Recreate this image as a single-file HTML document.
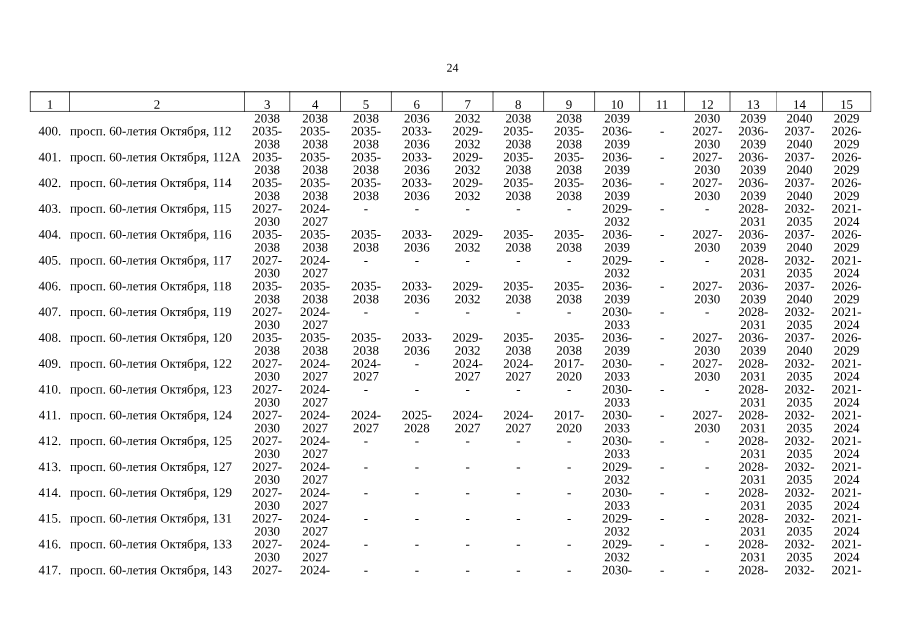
<!DOCTYPE html>
<html lang="ru">
<head>
<meta charset="utf-8">
<title>24</title>
<style>
html,body{margin:0;padding:0;background:#fff}
body{width:905px;height:640px;position:relative;overflow:hidden}
#pg{position:absolute;left:0;top:0;width:905px;height:640px;background:#fff;will-change:transform;font-family:"Liberation Serif","Times New Roman",serif;text-rendering:geometricPrecision;color:#000}
.r{position:absolute;left:0;width:905px;height:14px;font-size:12.9px;line-height:14px;white-space:nowrap}
.r i,.r b{position:absolute;top:0;font-style:normal;font-weight:normal;height:14px}
.r i{text-align:center}
.r u{position:absolute;left:0;top:0;width:905px;height:14px;text-decoration:none}
u.a{transform-origin:137px 0}
u.b{transform-origin:420px 0}
u.c{transform-origin:733px 0}
u.p{transform-origin:452.5px 0}
.q0 u{transform:matrix(1,0.0005,0,1,0,0)}
.q1 u{transform:matrix(1,0.0005,0,1,0,.25)}
.q2 u{transform:matrix(1,0.0005,0,1,0,.5)}
.q3 u{transform:matrix(1,0.0005,0,1,0,.75)}
.r b{letter-spacing:0.012px}
.g{position:absolute;left:0;top:0}
</style>
</head>
<body>
<div id="pg">
<svg class="g" width="905" height="640" viewBox="0 0 905 640"><g stroke="#000" fill="none"><path stroke-width="0.95" d="M29.96 91.78H871.02"/><path stroke-width="0.68" d="M29.96 111.45H871.02"/><path stroke-width="0.68" d="M30.30 91.31V111.79"/><path stroke-width="0.68" d="M69.50 91.31V111.79"/><path stroke-width="0.68" d="M244.50 91.31V111.79"/><path stroke-width="0.68" d="M289.75 91.31V111.79"/><path stroke-width="0.68" d="M340.50 91.31V111.79"/><path stroke-width="0.68" d="M391.40 91.31V111.79"/><path stroke-width="0.68" d="M442.30 91.31V111.79"/><path stroke-width="0.68" d="M493.00 91.31V111.79"/><path stroke-width="0.68" d="M543.60 91.31V111.79"/><path stroke-width="0.68" d="M594.60 91.31V111.79"/><path stroke-width="0.68" d="M639.60 91.31V111.79"/><path stroke-width="0.68" d="M684.50 91.31V111.79"/><path stroke-width="0.68" d="M730.00 91.31V111.79"/><path stroke-width="0.36" d="M776.50 91.31V111.79"/><path stroke-width="0.68" d="M822.50 91.31V111.79"/><path stroke-width="0.55" d="M870.75 91.31V111.79"/></g></svg>
<div class="r q3" style="font-size:12.0px;top:60px"><u class="p"><i style="left:0;width:905px">24</i></u></div>
<div class="r q3" style="top:97px"><u class="a"><i style="left:30.30px;width:39.20px">1</i><i style="left:69.50px;width:175.00px">2</i></u><u class="b"><i style="left:244.50px;width:45.25px">3</i><i style="left:289.75px;width:50.75px">4</i><i style="left:340.50px;width:50.90px">5</i><i style="left:391.40px;width:50.90px">6</i><i style="left:442.30px;width:50.70px">7</i><i style="left:493.00px;width:50.60px">8</i><i style="left:543.60px;width:51.00px">9</i></u><u class="c"><i style="left:594.60px;width:45.00px">10</i><i style="left:639.60px;width:44.90px">11</i><i style="left:684.50px;width:45.50px">12</i><i style="left:730.00px;width:46.50px">13</i><i style="left:776.50px;width:46.00px">14</i><i style="left:822.50px;width:48.25px">15</i></u></div>
<div class="r q2" style="top:111px"><u class="b"><i style="left:244.50px;width:45.25px">2038</i><i style="left:289.75px;width:50.75px">2038</i><i style="left:340.50px;width:50.90px">2038</i><i style="left:391.40px;width:50.90px">2036</i><i style="left:442.30px;width:50.70px">2032</i><i style="left:493.00px;width:50.60px">2038</i><i style="left:543.60px;width:51.00px">2038</i></u><u class="c"><i style="left:594.60px;width:45.00px">2039</i><i style="left:684.50px;width:45.50px">2030</i><i style="left:730.00px;width:46.50px">2039</i><i style="left:776.50px;width:46.00px">2040</i><i style="left:822.50px;width:48.25px">2029</i></u></div>
<div class="r q1" style="top:124px"><u class="a"><i style="left:30.30px;width:39.20px">400.</i><b style="left:69.90px">просп. 60-летия Октября, 112</b></u><u class="b"><i style="left:244.50px;width:45.25px">2035-</i><i style="left:289.75px;width:50.75px">2035-</i><i style="left:340.50px;width:50.90px">2035-</i><i style="left:391.40px;width:50.90px">2033-</i><i style="left:442.30px;width:50.70px">2029-</i><i style="left:493.00px;width:50.60px">2035-</i><i style="left:543.60px;width:51.00px">2035-</i></u><u class="c"><i style="left:594.60px;width:45.00px">2036-</i><i style="left:639.60px;width:44.90px">-</i><i style="left:684.50px;width:45.50px">2027-</i><i style="left:730.00px;width:46.50px">2036-</i><i style="left:776.50px;width:46.00px">2037-</i><i style="left:822.50px;width:48.25px">2026-</i></u></div>
<div class="r q1" style="top:137px"><u class="b"><i style="left:244.50px;width:45.25px">2038</i><i style="left:289.75px;width:50.75px">2038</i><i style="left:340.50px;width:50.90px">2038</i><i style="left:391.40px;width:50.90px">2036</i><i style="left:442.30px;width:50.70px">2032</i><i style="left:493.00px;width:50.60px">2038</i><i style="left:543.60px;width:51.00px">2038</i></u><u class="c"><i style="left:594.60px;width:45.00px">2039</i><i style="left:684.50px;width:45.50px">2030</i><i style="left:730.00px;width:46.50px">2039</i><i style="left:776.50px;width:46.00px">2040</i><i style="left:822.50px;width:48.25px">2029</i></u></div>
<div class="r q1" style="top:150px"><u class="a"><i style="left:30.30px;width:39.20px">401.</i><b style="left:69.90px">просп. 60-летия Октября, 112А</b></u><u class="b"><i style="left:244.50px;width:45.25px">2035-</i><i style="left:289.75px;width:50.75px">2035-</i><i style="left:340.50px;width:50.90px">2035-</i><i style="left:391.40px;width:50.90px">2033-</i><i style="left:442.30px;width:50.70px">2029-</i><i style="left:493.00px;width:50.60px">2035-</i><i style="left:543.60px;width:51.00px">2035-</i></u><u class="c"><i style="left:594.60px;width:45.00px">2036-</i><i style="left:639.60px;width:44.90px">-</i><i style="left:684.50px;width:45.50px">2027-</i><i style="left:730.00px;width:46.50px">2036-</i><i style="left:776.50px;width:46.00px">2037-</i><i style="left:822.50px;width:48.25px">2026-</i></u></div>
<div class="r q0" style="top:163px"><u class="b"><i style="left:244.50px;width:45.25px">2038</i><i style="left:289.75px;width:50.75px">2038</i><i style="left:340.50px;width:50.90px">2038</i><i style="left:391.40px;width:50.90px">2036</i><i style="left:442.30px;width:50.70px">2032</i><i style="left:493.00px;width:50.60px">2038</i><i style="left:543.60px;width:51.00px">2038</i></u><u class="c"><i style="left:594.60px;width:45.00px">2039</i><i style="left:684.50px;width:45.50px">2030</i><i style="left:730.00px;width:46.50px">2039</i><i style="left:776.50px;width:46.00px">2040</i><i style="left:822.50px;width:48.25px">2029</i></u></div>
<div class="r q0" style="top:176px"><u class="a"><i style="left:30.30px;width:39.20px">402.</i><b style="left:69.90px">просп. 60-летия Октября, 114</b></u><u class="b"><i style="left:244.50px;width:45.25px">2035-</i><i style="left:289.75px;width:50.75px">2035-</i><i style="left:340.50px;width:50.90px">2035-</i><i style="left:391.40px;width:50.90px">2033-</i><i style="left:442.30px;width:50.70px">2029-</i><i style="left:493.00px;width:50.60px">2035-</i><i style="left:543.60px;width:51.00px">2035-</i></u><u class="c"><i style="left:594.60px;width:45.00px">2036-</i><i style="left:639.60px;width:44.90px">-</i><i style="left:684.50px;width:45.50px">2027-</i><i style="left:730.00px;width:46.50px">2036-</i><i style="left:776.50px;width:46.00px">2037-</i><i style="left:822.50px;width:48.25px">2026-</i></u></div>
<div class="r q0" style="top:189px"><u class="b"><i style="left:244.50px;width:45.25px">2038</i><i style="left:289.75px;width:50.75px">2038</i><i style="left:340.50px;width:50.90px">2038</i><i style="left:391.40px;width:50.90px">2036</i><i style="left:442.30px;width:50.70px">2032</i><i style="left:493.00px;width:50.60px">2038</i><i style="left:543.60px;width:51.00px">2038</i></u><u class="c"><i style="left:594.60px;width:45.00px">2039</i><i style="left:684.50px;width:45.50px">2030</i><i style="left:730.00px;width:46.50px">2039</i><i style="left:776.50px;width:46.00px">2040</i><i style="left:822.50px;width:48.25px">2029</i></u></div>
<div class="r q3" style="top:201px"><u class="a"><i style="left:30.30px;width:39.20px">403.</i><b style="left:69.90px">просп. 60-летия Октября, 115</b></u><u class="b"><i style="left:244.50px;width:45.25px">2027-</i><i style="left:289.75px;width:50.75px">2024-</i><i style="left:340.50px;width:50.90px">-</i><i style="left:391.40px;width:50.90px">-</i><i style="left:442.30px;width:50.70px">-</i><i style="left:493.00px;width:50.60px">-</i><i style="left:543.60px;width:51.00px">-</i></u><u class="c"><i style="left:594.60px;width:45.00px">2029-</i><i style="left:639.60px;width:44.90px">-</i><i style="left:684.50px;width:45.50px">-</i><i style="left:730.00px;width:46.50px">2028-</i><i style="left:776.50px;width:46.00px">2032-</i><i style="left:822.50px;width:48.25px">2021-</i></u></div>
<div class="r q3" style="top:214px"><u class="b"><i style="left:244.50px;width:45.25px">2030</i><i style="left:289.75px;width:50.75px">2027</i></u><u class="c"><i style="left:594.60px;width:45.00px">2032</i><i style="left:730.00px;width:46.50px">2031</i><i style="left:776.50px;width:46.00px">2035</i><i style="left:822.50px;width:48.25px">2024</i></u></div>
<div class="r q2" style="top:227px"><u class="a"><i style="left:30.30px;width:39.20px">404.</i><b style="left:69.90px">просп. 60-летия Октября, 116</b></u><u class="b"><i style="left:244.50px;width:45.25px">2035-</i><i style="left:289.75px;width:50.75px">2035-</i><i style="left:340.50px;width:50.90px">2035-</i><i style="left:391.40px;width:50.90px">2033-</i><i style="left:442.30px;width:50.70px">2029-</i><i style="left:493.00px;width:50.60px">2035-</i><i style="left:543.60px;width:51.00px">2035-</i></u><u class="c"><i style="left:594.60px;width:45.00px">2036-</i><i style="left:639.60px;width:44.90px">-</i><i style="left:684.50px;width:45.50px">2027-</i><i style="left:730.00px;width:46.50px">2036-</i><i style="left:776.50px;width:46.00px">2037-</i><i style="left:822.50px;width:48.25px">2026-</i></u></div>
<div class="r q2" style="top:240px"><u class="b"><i style="left:244.50px;width:45.25px">2038</i><i style="left:289.75px;width:50.75px">2038</i><i style="left:340.50px;width:50.90px">2038</i><i style="left:391.40px;width:50.90px">2036</i><i style="left:442.30px;width:50.70px">2032</i><i style="left:493.00px;width:50.60px">2038</i><i style="left:543.60px;width:51.00px">2038</i></u><u class="c"><i style="left:594.60px;width:45.00px">2039</i><i style="left:684.50px;width:45.50px">2030</i><i style="left:730.00px;width:46.50px">2039</i><i style="left:776.50px;width:46.00px">2040</i><i style="left:822.50px;width:48.25px">2029</i></u></div>
<div class="r q2" style="top:253px"><u class="a"><i style="left:30.30px;width:39.20px">405.</i><b style="left:69.90px">просп. 60-летия Октября, 117</b></u><u class="b"><i style="left:244.50px;width:45.25px">2027-</i><i style="left:289.75px;width:50.75px">2024-</i><i style="left:340.50px;width:50.90px">-</i><i style="left:391.40px;width:50.90px">-</i><i style="left:442.30px;width:50.70px">-</i><i style="left:493.00px;width:50.60px">-</i><i style="left:543.60px;width:51.00px">-</i></u><u class="c"><i style="left:594.60px;width:45.00px">2029-</i><i style="left:639.60px;width:44.90px">-</i><i style="left:684.50px;width:45.50px">-</i><i style="left:730.00px;width:46.50px">2028-</i><i style="left:776.50px;width:46.00px">2032-</i><i style="left:822.50px;width:48.25px">2021-</i></u></div>
<div class="r q1" style="top:266px"><u class="b"><i style="left:244.50px;width:45.25px">2030</i><i style="left:289.75px;width:50.75px">2027</i></u><u class="c"><i style="left:594.60px;width:45.00px">2032</i><i style="left:730.00px;width:46.50px">2031</i><i style="left:776.50px;width:46.00px">2035</i><i style="left:822.50px;width:48.25px">2024</i></u></div>
<div class="r q1" style="top:279px"><u class="a"><i style="left:30.30px;width:39.20px">406.</i><b style="left:69.90px">просп. 60-летия Октября, 118</b></u><u class="b"><i style="left:244.50px;width:45.25px">2035-</i><i style="left:289.75px;width:50.75px">2035-</i><i style="left:340.50px;width:50.90px">2035-</i><i style="left:391.40px;width:50.90px">2033-</i><i style="left:442.30px;width:50.70px">2029-</i><i style="left:493.00px;width:50.60px">2035-</i><i style="left:543.60px;width:51.00px">2035-</i></u><u class="c"><i style="left:594.60px;width:45.00px">2036-</i><i style="left:639.60px;width:44.90px">-</i><i style="left:684.50px;width:45.50px">2027-</i><i style="left:730.00px;width:46.50px">2036-</i><i style="left:776.50px;width:46.00px">2037-</i><i style="left:822.50px;width:48.25px">2026-</i></u></div>
<div class="r q1" style="top:292px"><u class="b"><i style="left:244.50px;width:45.25px">2038</i><i style="left:289.75px;width:50.75px">2038</i><i style="left:340.50px;width:50.90px">2038</i><i style="left:391.40px;width:50.90px">2036</i><i style="left:442.30px;width:50.70px">2032</i><i style="left:493.00px;width:50.60px">2038</i><i style="left:543.60px;width:51.00px">2038</i></u><u class="c"><i style="left:594.60px;width:45.00px">2039</i><i style="left:684.50px;width:45.50px">2030</i><i style="left:730.00px;width:46.50px">2039</i><i style="left:776.50px;width:46.00px">2040</i><i style="left:822.50px;width:48.25px">2029</i></u></div>
<div class="r q0" style="top:305px"><u class="a"><i style="left:30.30px;width:39.20px">407.</i><b style="left:69.90px">просп. 60-летия Октября, 119</b></u><u class="b"><i style="left:244.50px;width:45.25px">2027-</i><i style="left:289.75px;width:50.75px">2024-</i><i style="left:340.50px;width:50.90px">-</i><i style="left:391.40px;width:50.90px">-</i><i style="left:442.30px;width:50.70px">-</i><i style="left:493.00px;width:50.60px">-</i><i style="left:543.60px;width:51.00px">-</i></u><u class="c"><i style="left:594.60px;width:45.00px">2030-</i><i style="left:639.60px;width:44.90px">-</i><i style="left:684.50px;width:45.50px">-</i><i style="left:730.00px;width:46.50px">2028-</i><i style="left:776.50px;width:46.00px">2032-</i><i style="left:822.50px;width:48.25px">2021-</i></u></div>
<div class="r q0" style="top:318px"><u class="b"><i style="left:244.50px;width:45.25px">2030</i><i style="left:289.75px;width:50.75px">2027</i></u><u class="c"><i style="left:594.60px;width:45.00px">2033</i><i style="left:730.00px;width:46.50px">2031</i><i style="left:776.50px;width:46.00px">2035</i><i style="left:822.50px;width:48.25px">2024</i></u></div>
<div class="r q3" style="top:330px"><u class="a"><i style="left:30.30px;width:39.20px">408.</i><b style="left:69.90px">просп. 60-летия Октября, 120</b></u><u class="b"><i style="left:244.50px;width:45.25px">2035-</i><i style="left:289.75px;width:50.75px">2035-</i><i style="left:340.50px;width:50.90px">2035-</i><i style="left:391.40px;width:50.90px">2033-</i><i style="left:442.30px;width:50.70px">2029-</i><i style="left:493.00px;width:50.60px">2035-</i><i style="left:543.60px;width:51.00px">2035-</i></u><u class="c"><i style="left:594.60px;width:45.00px">2036-</i><i style="left:639.60px;width:44.90px">-</i><i style="left:684.50px;width:45.50px">2027-</i><i style="left:730.00px;width:46.50px">2036-</i><i style="left:776.50px;width:46.00px">2037-</i><i style="left:822.50px;width:48.25px">2026-</i></u></div>
<div class="r q3" style="top:343px"><u class="b"><i style="left:244.50px;width:45.25px">2038</i><i style="left:289.75px;width:50.75px">2038</i><i style="left:340.50px;width:50.90px">2038</i><i style="left:391.40px;width:50.90px">2036</i><i style="left:442.30px;width:50.70px">2032</i><i style="left:493.00px;width:50.60px">2038</i><i style="left:543.60px;width:51.00px">2038</i></u><u class="c"><i style="left:594.60px;width:45.00px">2039</i><i style="left:684.50px;width:45.50px">2030</i><i style="left:730.00px;width:46.50px">2039</i><i style="left:776.50px;width:46.00px">2040</i><i style="left:822.50px;width:48.25px">2029</i></u></div>
<div class="r q3" style="top:356px"><u class="a"><i style="left:30.30px;width:39.20px">409.</i><b style="left:69.90px">просп. 60-летия Октября, 122</b></u><u class="b"><i style="left:244.50px;width:45.25px">2027-</i><i style="left:289.75px;width:50.75px">2024-</i><i style="left:340.50px;width:50.90px">2024-</i><i style="left:391.40px;width:50.90px">-</i><i style="left:442.30px;width:50.70px">2024-</i><i style="left:493.00px;width:50.60px">2024-</i><i style="left:543.60px;width:51.00px">2017-</i></u><u class="c"><i style="left:594.60px;width:45.00px">2030-</i><i style="left:639.60px;width:44.90px">-</i><i style="left:684.50px;width:45.50px">2027-</i><i style="left:730.00px;width:46.50px">2028-</i><i style="left:776.50px;width:46.00px">2032-</i><i style="left:822.50px;width:48.25px">2021-</i></u></div>
<div class="r q2" style="top:369px"><u class="b"><i style="left:244.50px;width:45.25px">2030</i><i style="left:289.75px;width:50.75px">2027</i><i style="left:340.50px;width:50.90px">2027</i><i style="left:442.30px;width:50.70px">2027</i><i style="left:493.00px;width:50.60px">2027</i><i style="left:543.60px;width:51.00px">2020</i></u><u class="c"><i style="left:594.60px;width:45.00px">2033</i><i style="left:684.50px;width:45.50px">2030</i><i style="left:730.00px;width:46.50px">2031</i><i style="left:776.50px;width:46.00px">2035</i><i style="left:822.50px;width:48.25px">2024</i></u></div>
<div class="r q2" style="top:382px"><u class="a"><i style="left:30.30px;width:39.20px">410.</i><b style="left:69.90px">просп. 60-летия Октября, 123</b></u><u class="b"><i style="left:244.50px;width:45.25px">2027-</i><i style="left:289.75px;width:50.75px">2024-</i><i style="left:340.50px;width:50.90px">-</i><i style="left:391.40px;width:50.90px">-</i><i style="left:442.30px;width:50.70px">-</i><i style="left:493.00px;width:50.60px">-</i><i style="left:543.60px;width:51.00px">-</i></u><u class="c"><i style="left:594.60px;width:45.00px">2030-</i><i style="left:639.60px;width:44.90px">-</i><i style="left:684.50px;width:45.50px">-</i><i style="left:730.00px;width:46.50px">2028-</i><i style="left:776.50px;width:46.00px">2032-</i><i style="left:822.50px;width:48.25px">2021-</i></u></div>
<div class="r q2" style="top:395px"><u class="b"><i style="left:244.50px;width:45.25px">2030</i><i style="left:289.75px;width:50.75px">2027</i></u><u class="c"><i style="left:594.60px;width:45.00px">2033</i><i style="left:730.00px;width:46.50px">2031</i><i style="left:776.50px;width:46.00px">2035</i><i style="left:822.50px;width:48.25px">2024</i></u></div>
<div class="r q1" style="top:408px"><u class="a"><i style="left:30.30px;width:39.20px">411.</i><b style="left:69.90px">просп. 60-летия Октября, 124</b></u><u class="b"><i style="left:244.50px;width:45.25px">2027-</i><i style="left:289.75px;width:50.75px">2024-</i><i style="left:340.50px;width:50.90px">2024-</i><i style="left:391.40px;width:50.90px">2025-</i><i style="left:442.30px;width:50.70px">2024-</i><i style="left:493.00px;width:50.60px">2024-</i><i style="left:543.60px;width:51.00px">2017-</i></u><u class="c"><i style="left:594.60px;width:45.00px">2030-</i><i style="left:639.60px;width:44.90px">-</i><i style="left:684.50px;width:45.50px">2027-</i><i style="left:730.00px;width:46.50px">2028-</i><i style="left:776.50px;width:46.00px">2032-</i><i style="left:822.50px;width:48.25px">2021-</i></u></div>
<div class="r q1" style="top:421px"><u class="b"><i style="left:244.50px;width:45.25px">2030</i><i style="left:289.75px;width:50.75px">2027</i><i style="left:340.50px;width:50.90px">2027</i><i style="left:391.40px;width:50.90px">2028</i><i style="left:442.30px;width:50.70px">2027</i><i style="left:493.00px;width:50.60px">2027</i><i style="left:543.60px;width:51.00px">2020</i></u><u class="c"><i style="left:594.60px;width:45.00px">2033</i><i style="left:684.50px;width:45.50px">2030</i><i style="left:730.00px;width:46.50px">2031</i><i style="left:776.50px;width:46.00px">2035</i><i style="left:822.50px;width:48.25px">2024</i></u></div>
<div class="r q0" style="top:434px"><u class="a"><i style="left:30.30px;width:39.20px">412.</i><b style="left:69.90px">просп. 60-летия Октября, 125</b></u><u class="b"><i style="left:244.50px;width:45.25px">2027-</i><i style="left:289.75px;width:50.75px">2024-</i><i style="left:340.50px;width:50.90px">-</i><i style="left:391.40px;width:50.90px">-</i><i style="left:442.30px;width:50.70px">-</i><i style="left:493.00px;width:50.60px">-</i><i style="left:543.60px;width:51.00px">-</i></u><u class="c"><i style="left:594.60px;width:45.00px">2030-</i><i style="left:639.60px;width:44.90px">-</i><i style="left:684.50px;width:45.50px">-</i><i style="left:730.00px;width:46.50px">2028-</i><i style="left:776.50px;width:46.00px">2032-</i><i style="left:822.50px;width:48.25px">2021-</i></u></div>
<div class="r q0" style="top:447px"><u class="b"><i style="left:244.50px;width:45.25px">2030</i><i style="left:289.75px;width:50.75px">2027</i></u><u class="c"><i style="left:594.60px;width:45.00px">2033</i><i style="left:730.00px;width:46.50px">2031</i><i style="left:776.50px;width:46.00px">2035</i><i style="left:822.50px;width:48.25px">2024</i></u></div>
<div class="r q0" style="top:460px"><u class="a"><i style="left:30.30px;width:39.20px">413.</i><b style="left:69.90px">просп. 60-летия Октября, 127</b></u><u class="b"><i style="left:244.50px;width:45.25px">2027-</i><i style="left:289.75px;width:50.75px">2024-</i><i style="left:340.50px;width:50.90px">-</i><i style="left:391.40px;width:50.90px">-</i><i style="left:442.30px;width:50.70px">-</i><i style="left:493.00px;width:50.60px">-</i><i style="left:543.60px;width:51.00px">-</i></u><u class="c"><i style="left:594.60px;width:45.00px">2029-</i><i style="left:639.60px;width:44.90px">-</i><i style="left:684.50px;width:45.50px">-</i><i style="left:730.00px;width:46.50px">2028-</i><i style="left:776.50px;width:46.00px">2032-</i><i style="left:822.50px;width:48.25px">2021-</i></u></div>
<div class="r q3" style="top:472px"><u class="b"><i style="left:244.50px;width:45.25px">2030</i><i style="left:289.75px;width:50.75px">2027</i></u><u class="c"><i style="left:594.60px;width:45.00px">2032</i><i style="left:730.00px;width:46.50px">2031</i><i style="left:776.50px;width:46.00px">2035</i><i style="left:822.50px;width:48.25px">2024</i></u></div>
<div class="r q3" style="top:485px"><u class="a"><i style="left:30.30px;width:39.20px">414.</i><b style="left:69.90px">просп. 60-летия Октября, 129</b></u><u class="b"><i style="left:244.50px;width:45.25px">2027-</i><i style="left:289.75px;width:50.75px">2024-</i><i style="left:340.50px;width:50.90px">-</i><i style="left:391.40px;width:50.90px">-</i><i style="left:442.30px;width:50.70px">-</i><i style="left:493.00px;width:50.60px">-</i><i style="left:543.60px;width:51.00px">-</i></u><u class="c"><i style="left:594.60px;width:45.00px">2030-</i><i style="left:639.60px;width:44.90px">-</i><i style="left:684.50px;width:45.50px">-</i><i style="left:730.00px;width:46.50px">2028-</i><i style="left:776.50px;width:46.00px">2032-</i><i style="left:822.50px;width:48.25px">2021-</i></u></div>
<div class="r q3" style="top:498px"><u class="b"><i style="left:244.50px;width:45.25px">2030</i><i style="left:289.75px;width:50.75px">2027</i></u><u class="c"><i style="left:594.60px;width:45.00px">2033</i><i style="left:730.00px;width:46.50px">2031</i><i style="left:776.50px;width:46.00px">2035</i><i style="left:822.50px;width:48.25px">2024</i></u></div>
<div class="r q2" style="top:511px"><u class="a"><i style="left:30.30px;width:39.20px">415.</i><b style="left:69.90px">просп. 60-летия Октября, 131</b></u><u class="b"><i style="left:244.50px;width:45.25px">2027-</i><i style="left:289.75px;width:50.75px">2024-</i><i style="left:340.50px;width:50.90px">-</i><i style="left:391.40px;width:50.90px">-</i><i style="left:442.30px;width:50.70px">-</i><i style="left:493.00px;width:50.60px">-</i><i style="left:543.60px;width:51.00px">-</i></u><u class="c"><i style="left:594.60px;width:45.00px">2029-</i><i style="left:639.60px;width:44.90px">-</i><i style="left:684.50px;width:45.50px">-</i><i style="left:730.00px;width:46.50px">2028-</i><i style="left:776.50px;width:46.00px">2032-</i><i style="left:822.50px;width:48.25px">2021-</i></u></div>
<div class="r q2" style="top:524px"><u class="b"><i style="left:244.50px;width:45.25px">2030</i><i style="left:289.75px;width:50.75px">2027</i></u><u class="c"><i style="left:594.60px;width:45.00px">2032</i><i style="left:730.00px;width:46.50px">2031</i><i style="left:776.50px;width:46.00px">2035</i><i style="left:822.50px;width:48.25px">2024</i></u></div>
<div class="r q1" style="top:537px"><u class="a"><i style="left:30.30px;width:39.20px">416.</i><b style="left:69.90px">просп. 60-летия Октября, 133</b></u><u class="b"><i style="left:244.50px;width:45.25px">2027-</i><i style="left:289.75px;width:50.75px">2024-</i><i style="left:340.50px;width:50.90px">-</i><i style="left:391.40px;width:50.90px">-</i><i style="left:442.30px;width:50.70px">-</i><i style="left:493.00px;width:50.60px">-</i><i style="left:543.60px;width:51.00px">-</i></u><u class="c"><i style="left:594.60px;width:45.00px">2029-</i><i style="left:639.60px;width:44.90px">-</i><i style="left:684.50px;width:45.50px">-</i><i style="left:730.00px;width:46.50px">2028-</i><i style="left:776.50px;width:46.00px">2032-</i><i style="left:822.50px;width:48.25px">2021-</i></u></div>
<div class="r q1" style="top:550px"><u class="b"><i style="left:244.50px;width:45.25px">2030</i><i style="left:289.75px;width:50.75px">2027</i></u><u class="c"><i style="left:594.60px;width:45.00px">2032</i><i style="left:730.00px;width:46.50px">2031</i><i style="left:776.50px;width:46.00px">2035</i><i style="left:822.50px;width:48.25px">2024</i></u></div>
<div class="r q1" style="top:563px"><u class="a"><i style="left:30.30px;width:39.20px">417.</i><b style="left:69.90px">просп. 60-летия Октября, 143</b></u><u class="b"><i style="left:244.50px;width:45.25px">2027-</i><i style="left:289.75px;width:50.75px">2024-</i><i style="left:340.50px;width:50.90px">-</i><i style="left:391.40px;width:50.90px">-</i><i style="left:442.30px;width:50.70px">-</i><i style="left:493.00px;width:50.60px">-</i><i style="left:543.60px;width:51.00px">-</i></u><u class="c"><i style="left:594.60px;width:45.00px">2030-</i><i style="left:639.60px;width:44.90px">-</i><i style="left:684.50px;width:45.50px">-</i><i style="left:730.00px;width:46.50px">2028-</i><i style="left:776.50px;width:46.00px">2032-</i><i style="left:822.50px;width:48.25px">2021-</i></u></div>
</div>
</body>
</html>
